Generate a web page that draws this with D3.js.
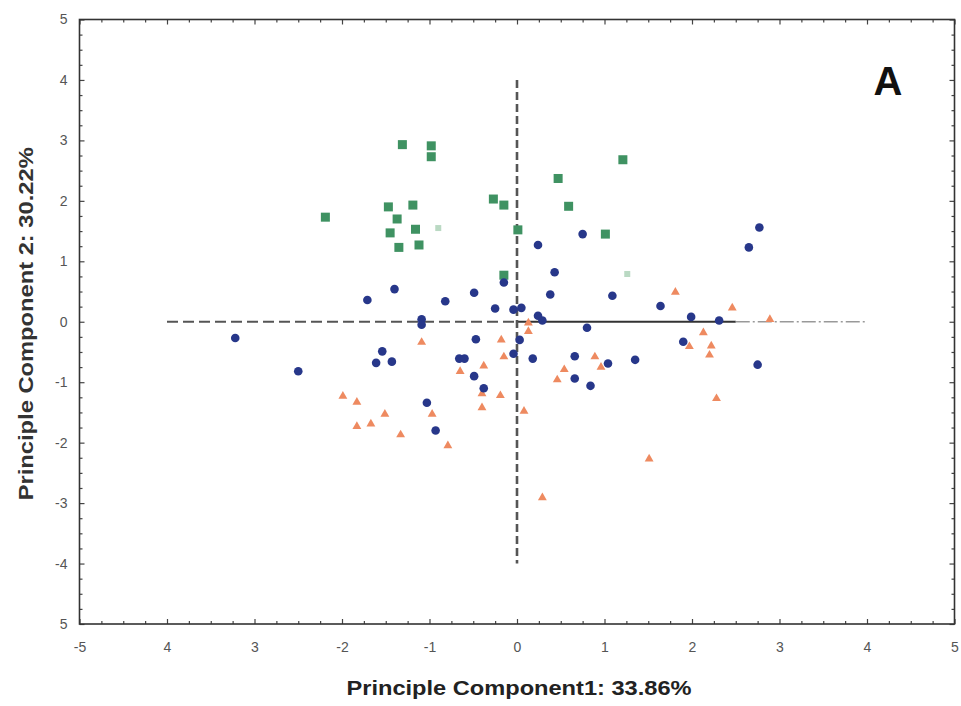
<!DOCTYPE html>
<html>
<head>
<meta charset="utf-8">
<script src="https://cdn.jsdelivr.net/npm/d3@7"></script>
<style>
  html, body { margin: 0; padding: 0; background: #fff; }
  svg { display: block; font-family: "Liberation Sans", Arial, sans-serif; }
</style>
</head>
<body>
<svg id="chart" width="961" height="706"></svg>
<script>
// PCA scores, component 1 (x) vs component 2 (y)
const groupSquares = [
  [-1.31, 2.93], [-0.98, 2.91], [-0.98, 2.73], [-2.19, 1.73], [-1.47, 1.90],
  [-1.19, 1.93], [-1.37, 1.70], [-1.45, 1.47], [-1.16, 1.53], [-1.35, 1.23],
  [-1.12, 1.27], [-0.27, 2.03], [-0.15, 1.93], [0.01, 1.52], [-0.15, 0.77],
  [1.21, 2.68], [0.47, 2.37], [0.59, 1.91], [1.01, 1.45]
];
const groupSquaresFaint = [[-0.90, 1.55], [1.26, 0.79]];

const groupCircles = [
  [-1.40, 0.54], [-1.71, 0.36], [-0.82, 0.34], [-0.49, 0.48], [-0.15, 0.65],
  [-0.25, 0.22], [-0.04, 0.20], [0.05, 0.23], [-1.09, 0.04], [-1.09, -0.05],
  [0.75, 1.45], [0.24, 1.27], [2.77, 1.56], [2.65, 1.23], [0.43, 0.82],
  [0.38, 0.45], [1.09, 0.43], [1.64, 0.26], [0.24, 0.10], [0.29, 0.02],
  [1.99, 0.08], [2.31, 0.02], [0.80, -0.10], [-3.22, -0.27], [-2.50, -0.82],
  [-1.54, -0.49], [-1.61, -0.68], [-1.43, -0.66], [-0.66, -0.61], [-0.60, -0.61],
  [-0.47, -0.29], [-0.49, -0.90], [-0.38, -1.10], [-1.03, -1.34], [-0.93, -1.80],
  [-0.04, -0.53], [0.03, -0.30], [0.18, -0.61], [0.66, -0.57], [1.04, -0.69],
  [1.35, -0.63], [0.66, -0.94], [0.84, -1.06], [1.90, -0.33], [2.75, -0.71]
];

const groupTriangles = [
  [-1.09, -0.34], [-0.18, -0.30], [-0.15, -0.58], [-0.38, -0.73], [-0.65, -0.82],
  [-0.40, -1.19], [-0.40, -1.42], [-0.19, -1.22], [-1.99, -1.23], [-1.83, -1.33],
  [-1.51, -1.53], [-1.83, -1.73], [-1.67, -1.69], [-1.33, -1.87], [-0.97, -1.53],
  [-0.79, -2.05], [0.13, -0.02], [0.13, -0.16], [0.89, -0.58], [0.96, -0.75],
  [0.54, -0.79], [0.46, -0.96], [0.08, -1.48], [2.13, -0.18], [1.97, -0.41],
  [2.22, -0.40], [2.20, -0.55], [2.28, -1.27], [1.51, -2.27], [0.29, -2.91],
  [1.81, 0.49], [2.46, 0.23], [2.89, 0.04]
];

const xTickValues = [-5, -4, -3, -2, -1, 0, 1, 2, 3, 4, 5];
const xTickLabels = ["-5", "4", "3", "-2", "-1", "0", "1", "2", "3", "4", "5"];
const yTickValues = [5, 4, 3, 2, 1, 0, -1, -2, -3, -4, -5];
const yTickLabels = ["5", "4", "3", "2", "1", "0", "-1", "-2", "-3", "-4", "5"];

const xTitle = "Principle Component1: 33.86%";
const yTitle = "Principle Component 2: 30.22%";
const panelLabel = "A";

const svg = d3.select("#chart");
const plotLeft = 79.5, plotRight = 954.5, plotTop = 19.5, plotBottom = 624;

const x = d3.scaleLinear().domain([-5, 5]).range([plotLeft, plotRight]);
const y = d3.scaleLinear().domain([-5, 5]).range([plotBottom, plotTop]);

const minorVals = d3.range(-5, 5.001, 0.25).filter(v => Math.abs(v - Math.round(v)) > 1e-6);

// axes with inward ticks on all four sides
function styleAxis(g) {
  g.select(".domain").remove();
  g.selectAll(".tick line").attr("stroke", "#444").attr("stroke-width", 1.2);
  g.selectAll(".tick text").attr("fill", "#555").style("font-size", "14px");
}

svg.append("g").attr("transform", `translate(0,${plotBottom})`)
  .call(d3.axisBottom(x).tickValues(xTickValues).tickSize(-5).tickPadding(18)
    .tickFormat((d, i) => xTickLabels[i]))
  .call(styleAxis);
svg.append("g").attr("transform", `translate(0,${plotBottom})`)
  .call(d3.axisBottom(x).tickValues(minorVals).tickSize(-3).tickFormat(""))
  .call(styleAxis);

svg.append("g").attr("transform", `translate(0,${plotTop})`)
  .call(d3.axisTop(x).tickValues(xTickValues).tickSize(-5).tickFormat(""))
  .call(styleAxis);
svg.append("g").attr("transform", `translate(0,${plotTop})`)
  .call(d3.axisTop(x).tickValues(minorVals).tickSize(-3).tickFormat(""))
  .call(styleAxis);

svg.append("g").attr("transform", `translate(${plotLeft},0)`)
  .call(d3.axisLeft(y).tickValues(yTickValues).tickSize(-5).tickPadding(12)
    .tickFormat((d, i) => yTickLabels[i]))
  .call(styleAxis);
svg.append("g").attr("transform", `translate(${plotLeft},0)`)
  .call(d3.axisLeft(y).tickValues(minorVals).tickSize(-3).tickFormat(""))
  .call(styleAxis);

svg.append("g").attr("transform", `translate(${plotRight},0)`)
  .call(d3.axisRight(y).tickValues(yTickValues).tickSize(-5).tickFormat(""))
  .call(styleAxis);
svg.append("g").attr("transform", `translate(${plotRight},0)`)
  .call(d3.axisRight(y).tickValues(minorVals).tickSize(-3).tickFormat(""))
  .call(styleAxis);

// plot frame
svg.append("rect")
  .attr("x", plotLeft).attr("y", plotTop)
  .attr("width", plotRight - plotLeft).attr("height", plotBottom - plotTop)
  .attr("fill", "none").attr("stroke", "#333").attr("stroke-width", 1.6);

// reference lines through the origin
svg.append("line")
  .attr("x1", x(-4)).attr("x2", x(0)).attr("y1", y(0)).attr("y2", y(0))
  .attr("stroke", "#555").attr("stroke-width", 2).attr("stroke-dasharray", "11,5");
svg.append("line")
  .attr("x1", x(0)).attr("x2", x(2.5)).attr("y1", y(0)).attr("y2", y(0))
  .attr("stroke", "#333").attr("stroke-width", 2);
svg.append("line")
  .attr("x1", x(2.5)).attr("x2", x(4)).attr("y1", y(0)).attr("y2", y(0))
  .attr("stroke", "#999").attr("stroke-width", 1.5).attr("stroke-dasharray", "14,3,2,3");
svg.append("line")
  .attr("x1", x(0)).attr("x2", x(0)).attr("y1", y(4)).attr("y2", y(-4))
  .attr("stroke", "#555").attr("stroke-width", 2.6).attr("stroke-dasharray", "8,4");

// markers
const sq = 9;
svg.append("g").selectAll("rect").data(groupSquaresFaint).join("rect")
  .attr("x", d => x(d[0]) - 3).attr("y", d => y(d[1]) - 3)
  .attr("width", 6).attr("height", 6)
  .attr("fill", "#9cc9aa").attr("opacity", 0.7);

svg.append("g").selectAll("rect").data(groupSquares).join("rect")
  .attr("x", d => x(d[0]) - sq / 2).attr("y", d => y(d[1]) - sq / 2)
  .attr("width", sq).attr("height", sq)
  .attr("fill", "#3f9262");

svg.append("g").selectAll("path").data(groupTriangles).join("path")
  .attr("transform", d => `translate(${x(d[0])},${y(d[1])})`)
  .attr("d", d3.symbol(d3.symbolTriangle, 34))
  .attr("fill", "#ee8a60");

svg.append("g").selectAll("circle").data(groupCircles).join("circle")
  .attr("cx", d => x(d[0])).attr("cy", d => y(d[1])).attr("r", 4.3)
  .attr("fill", "#27378a");

// titles
svg.append("text")
  .attr("x", (plotLeft + plotRight) / 2 + 2).attr("y", 695)
  .attr("text-anchor", "middle")
  .attr("textLength", 345).attr("lengthAdjust", "spacingAndGlyphs")
  .style("font-size", "20px").style("font-weight", "bold").attr("fill", "#222")
  .text(xTitle);

svg.append("text")
  .attr("transform", `translate(33,${(plotTop + plotBottom) / 2 + 2}) rotate(-90)`)
  .attr("text-anchor", "middle")
  .attr("textLength", 353).attr("lengthAdjust", "spacingAndGlyphs")
  .style("font-size", "21px").style("font-weight", "bold").attr("fill", "#333")
  .text(yTitle);

svg.append("text")
  .attr("x", 888).attr("y", 95)
  .attr("text-anchor", "middle")
  .style("font-size", "40px").style("font-weight", "bold").attr("fill", "#111")
  .text(panelLabel);
</script>
</body>
</html>
